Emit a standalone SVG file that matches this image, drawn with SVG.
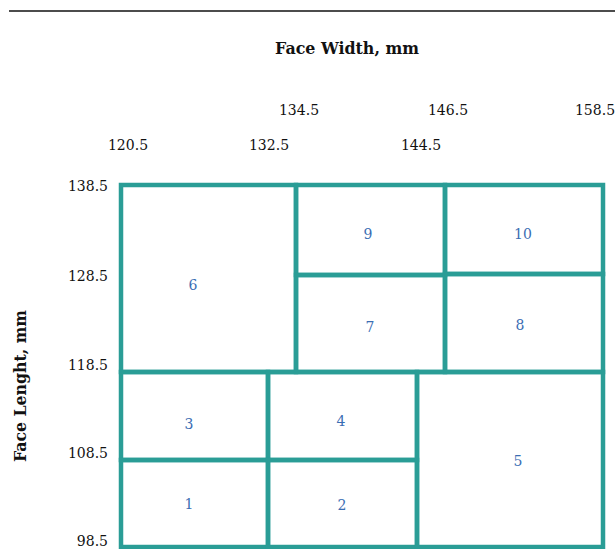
<svg xmlns="http://www.w3.org/2000/svg" width="615" height="549" viewBox="0 0 615 549">
<style>
.cell{fill:none;stroke:#2a9d96;stroke-width:4.5}
.lbl{font-family:"DejaVu Serif","Liberation Serif",serif;font-size:14px;fill:#3a6db3;text-anchor:middle}
.ax{font-family:"DejaVu Serif","Liberation Serif",serif;font-size:14px;fill:#111}
.ttl{font-family:"DejaVu Serif","Liberation Serif",serif;font-size:16.5px;font-weight:bold;fill:#111;text-anchor:middle}
</style>
<rect width="615" height="549" fill="#fff"/>
<line x1="9" y1="11" x2="615" y2="11" stroke="#111" stroke-width="1.3"/>
<text class="ttl" x="347" y="54" textLength="144" lengthAdjust="spacingAndGlyphs">Face Width, mm</text>
<g class="ax" text-anchor="middle">
<text x="299" y="115">134.5</text>
<text x="448" y="115">146.5</text>
<text x="595" y="115">158.5</text>
<text x="128" y="150">120.5</text>
<text x="269" y="150">132.5</text>
<text x="421" y="150">144.5</text>
</g>
<g class="ax" text-anchor="end">
<text x="108" y="191">138.5</text>
<text x="108" y="281">128.5</text>
<text x="108" y="370">118.5</text>
<text x="108" y="458">108.5</text>
<text x="108" y="546">98.5</text>
</g>
<text class="ttl" transform="translate(26,386) rotate(-90)" textLength="152" lengthAdjust="spacingAndGlyphs">Face Lenght, mm</text>
<g id="cell6"><rect class="cell" x="121" y="185" width="175" height="187"/><text class="lbl" x="193" y="290">6</text></g>
<g id="cell9"><rect class="cell" x="296" y="185" width="149" height="90"/><text class="lbl" x="368" y="239">9</text></g>
<g id="cell10"><rect class="cell" x="445" y="185" width="158" height="89"/><text class="lbl" x="523" y="239">10</text></g>
<g id="cell7"><rect class="cell" x="296" y="275" width="149" height="97"/><text class="lbl" x="370" y="332">7</text></g>
<g id="cell8"><rect class="cell" x="445" y="274" width="158" height="98"/><text class="lbl" x="520" y="330">8</text></g>
<g id="cell3"><rect class="cell" x="121" y="372" width="147" height="88"/><text class="lbl" x="189" y="429">3</text></g>
<g id="cell4"><rect class="cell" x="268" y="372" width="149" height="88"/><text class="lbl" x="341" y="426">4</text></g>
<g id="cell1"><rect class="cell" x="121" y="460" width="147" height="87"/><text class="lbl" x="189" y="509">1</text></g>
<g id="cell2"><rect class="cell" x="268" y="460" width="149" height="87"/><text class="lbl" x="342" y="510">2</text></g>
<g id="cell5"><rect class="cell" x="417" y="372" width="186" height="175"/><text class="lbl" x="518" y="466">5</text></g>
<g id="connectors"></g>
</svg>
